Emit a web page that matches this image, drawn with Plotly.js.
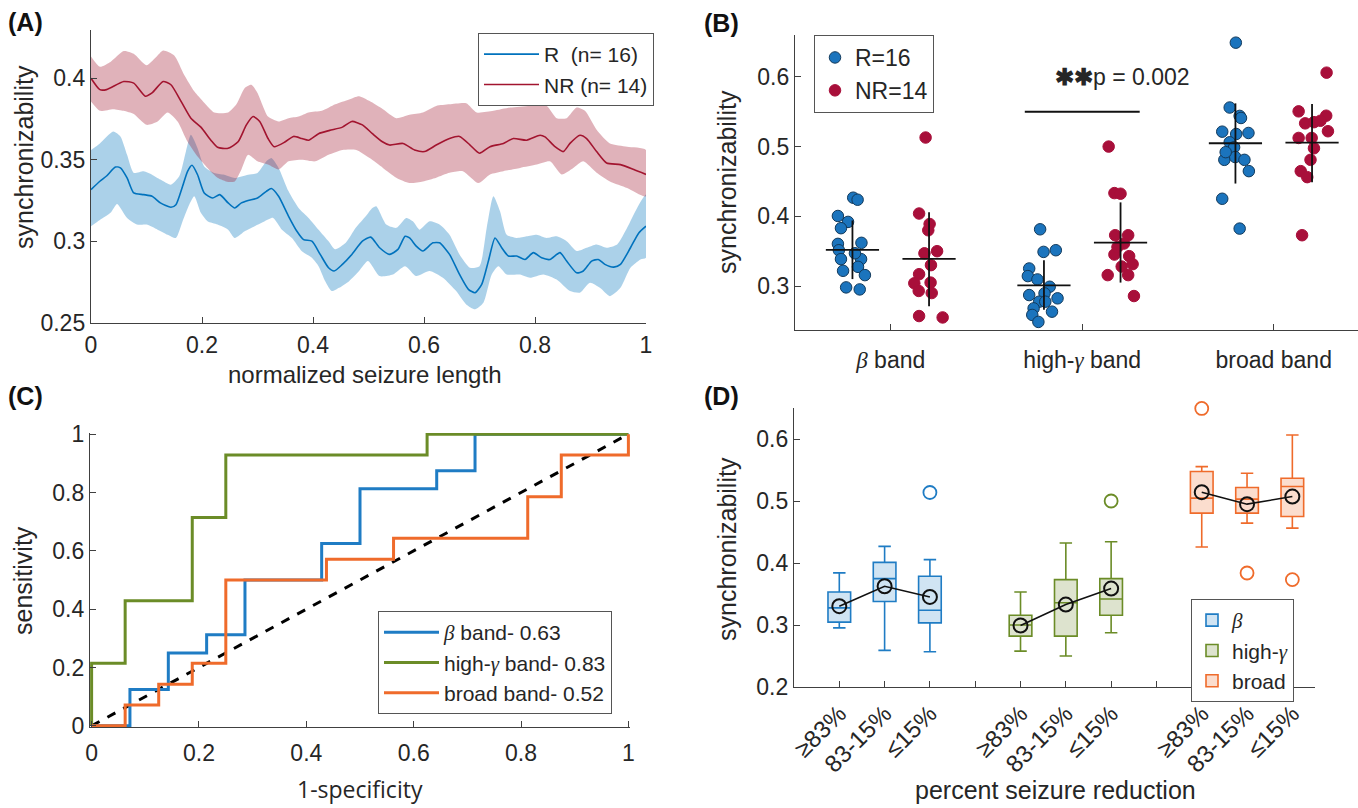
<!DOCTYPE html>
<html><head><meta charset="utf-8">
<script src="https://cdn.plot.ly/plotly-3.0.1.min.js"></script>
<style>html,body{margin:0;padding:0;background:#fff}#chart{width:1358px;height:808px}</style>
</head><body><div id="chart"></div>
<script>
// ---------- Panel A data: [normalized seizure length, synchronizability] ----------
const rMean = [[0,0.3317],[0.016,0.3368],[0.028,0.340],[0.044,0.3455],[0.053,0.345],[0.065,0.3388],[0.077,0.3296],[0.095,0.3286],[0.11,0.3276],[0.125,0.3235],[0.144,0.3208],[0.153,0.3224],[0.165,0.3337],[0.174,0.3429],[0.182,0.3466],[0.192,0.3408],[0.204,0.3296],[0.219,0.3265],[0.232,0.3286],[0.247,0.3235],[0.259,0.3204],[0.271,0.3235],[0.283,0.325],[0.30,0.3265],[0.316,0.3306],[0.325,0.3323],[0.338,0.3276],[0.356,0.3153],[0.371,0.3061],[0.383,0.301],[0.398,0.300],[0.413,0.2919],[0.428,0.2837],[0.438,0.2817],[0.453,0.2858],[0.47,0.2919],[0.489,0.300],[0.504,0.3025],[0.52,0.296],[0.538,0.2919],[0.553,0.295],[0.566,0.303],[0.574,0.302],[0.586,0.297],[0.598,0.294],[0.616,0.299],[0.628,0.299],[0.646,0.2919],[0.664,0.2796],[0.68,0.2705],[0.692,0.2684],[0.704,0.2735],[0.716,0.2878],[0.728,0.302],[0.74,0.296],[0.752,0.2909],[0.767,0.2909],[0.782,0.2888],[0.797,0.293],[0.812,0.2898],[0.827,0.2888],[0.845,0.293],[0.857,0.2878],[0.875,0.2806],[0.887,0.2817],[0.902,0.2878],[0.914,0.2888],[0.926,0.2858],[0.942,0.2841],[0.954,0.2858],[0.972,0.296],[0.987,0.3051],[1.0,0.3092]];
const rUpper = [[0,0.356],[0.016,0.360],[0.04,0.3673],[0.053,0.3643],[0.065,0.353],[0.077,0.3419],[0.095,0.3429],[0.11,0.3408],[0.125,0.3378],[0.144,0.3347],[0.159,0.3398],[0.171,0.3551],[0.18,0.3653],[0.192,0.3571],[0.204,0.3459],[0.222,0.3419],[0.24,0.3408],[0.259,0.3388],[0.283,0.3408],[0.30,0.3419],[0.316,0.349],[0.325,0.351],[0.338,0.345],[0.356,0.3306],[0.374,0.3204],[0.392,0.3143],[0.41,0.3071],[0.428,0.300],[0.44,0.295],[0.459,0.299],[0.477,0.3082],[0.495,0.3153],[0.507,0.3204],[0.514,0.3214],[0.532,0.3102],[0.55,0.3082],[0.568,0.3143],[0.58,0.3122],[0.592,0.3071],[0.61,0.3122],[0.628,0.3102],[0.646,0.304],[0.664,0.2919],[0.683,0.2837],[0.70,0.2847],[0.713,0.3082],[0.725,0.3276],[0.737,0.3184],[0.749,0.304],[0.767,0.302],[0.785,0.303],[0.803,0.304],[0.821,0.302],[0.839,0.303],[0.857,0.300],[0.875,0.294],[0.893,0.296],[0.911,0.298],[0.929,0.296],[0.948,0.298],[0.966,0.3082],[0.984,0.3204],[1.0,0.3286]];
const rLower = [[0,0.3092],[0.016,0.313],[0.035,0.3174],[0.047,0.3229],[0.065,0.3143],[0.083,0.3102],[0.10,0.3102],[0.12,0.3071],[0.138,0.304],[0.153,0.302],[0.165,0.3122],[0.177,0.3224],[0.186,0.3276],[0.198,0.3174],[0.21,0.3122],[0.228,0.3102],[0.247,0.3071],[0.259,0.302],[0.277,0.3061],[0.295,0.3092],[0.313,0.3122],[0.328,0.3143],[0.344,0.3071],[0.362,0.302],[0.38,0.2939],[0.398,0.2898],[0.41,0.2847],[0.422,0.2755],[0.434,0.2694],[0.447,0.2714],[0.465,0.2755],[0.483,0.2817],[0.499,0.2878],[0.52,0.2786],[0.544,0.2796],[0.566,0.2847],[0.586,0.2786],[0.61,0.2817],[0.634,0.2776],[0.658,0.2694],[0.676,0.2612],[0.692,0.2582],[0.707,0.2622],[0.722,0.2796],[0.734,0.2847],[0.749,0.2796],[0.773,0.2796],[0.791,0.2776],[0.815,0.2796],[0.839,0.2765],[0.863,0.2694],[0.881,0.2684],[0.899,0.2745],[0.917,0.2714],[0.935,0.2663],[0.954,0.2714],[0.972,0.2837],[0.99,0.2888],[1.0,0.2898]];
const nrMean = [[0,0.400],[0.016,0.393],[0.028,0.393],[0.059,0.398],[0.077,0.397],[0.098,0.389],[0.11,0.391],[0.13,0.398],[0.144,0.396],[0.162,0.386],[0.18,0.3755],[0.198,0.370],[0.216,0.362],[0.228,0.3576],[0.247,0.357],[0.265,0.361],[0.28,0.3714],[0.292,0.3765],[0.304,0.3735],[0.319,0.363],[0.33,0.358],[0.35,0.361],[0.365,0.3643],[0.38,0.363],[0.392,0.362],[0.41,0.366],[0.43,0.368],[0.453,0.370],[0.47,0.3735],[0.489,0.3714],[0.507,0.366],[0.525,0.361],[0.538,0.359],[0.562,0.360],[0.583,0.356],[0.601,0.355],[0.622,0.359],[0.646,0.363],[0.664,0.3643],[0.683,0.359],[0.70,0.354],[0.719,0.358],[0.743,0.360],[0.761,0.363],[0.785,0.362],[0.809,0.365],[0.818,0.364],[0.836,0.358],[0.851,0.355],[0.863,0.360],[0.881,0.365],[0.893,0.363],[0.911,0.355],[0.929,0.348],[0.954,0.347],[0.978,0.344],[1.0,0.341]];
const nrUpper = [[0,0.4133],[0.016,0.407],[0.035,0.410],[0.059,0.4167],[0.077,0.415],[0.10,0.408],[0.12,0.414],[0.13,0.417],[0.15,0.414],[0.168,0.402],[0.186,0.392],[0.204,0.385],[0.222,0.379],[0.247,0.379],[0.262,0.384],[0.277,0.394],[0.289,0.396],[0.30,0.391],[0.319,0.3765],[0.338,0.3735],[0.356,0.3755],[0.374,0.3765],[0.392,0.379],[0.416,0.380],[0.44,0.384],[0.465,0.387],[0.483,0.389],[0.502,0.386],[0.526,0.381],[0.55,0.3755],[0.574,0.3776],[0.598,0.379],[0.622,0.383],[0.646,0.384],[0.676,0.3847],[0.695,0.379],[0.725,0.380],[0.755,0.382],[0.791,0.383],[0.821,0.383],[0.839,0.3755],[0.857,0.3755],[0.875,0.382],[0.89,0.380],[0.911,0.3684],[0.935,0.360],[0.966,0.358],[1.0,0.356]];
const nrLower = [[0,0.3857],[0.016,0.380],[0.04,0.381],[0.059,0.380],[0.077,0.378],[0.10,0.3714],[0.12,0.3735],[0.138,0.379],[0.156,0.3735],[0.174,0.361],[0.192,0.352],[0.21,0.345],[0.228,0.339],[0.247,0.3364],[0.259,0.3367],[0.271,0.344],[0.283,0.353],[0.30,0.349],[0.319,0.347],[0.338,0.344],[0.356,0.349],[0.38,0.350],[0.404,0.349],[0.428,0.353],[0.453,0.356],[0.478,0.356],[0.502,0.351],[0.526,0.345],[0.55,0.339],[0.574,0.3357],[0.598,0.3367],[0.622,0.339],[0.646,0.342],[0.67,0.343],[0.698,0.3357],[0.719,0.341],[0.743,0.343],[0.773,0.345],[0.803,0.347],[0.827,0.349],[0.848,0.341],[0.869,0.345],[0.887,0.349],[0.911,0.342],[0.935,0.3367],[0.966,0.3327],[1.0,0.3276]];

// ---------- Panel B data ----------
const SERIF_B = '<span style="font-family:Liberation Serif,DejaVu Serif,serif"><i>β</i></span>';
const SERIF_G = '<span style="font-family:Liberation Serif,DejaVu Serif,serif"><i>γ</i></span>';
const bandLabels = [SERIF_B + ' band', 'high-' + SERIF_G + ' band', 'broad band'];
// [x position (category units), synchronizability]
const bR_beta  = [[0.804,0.4267],[0.827,0.4238],[0.724,0.4005],[0.777,0.392],[0.74,0.383],[0.724,0.3605],[0.847,0.362],[0.729,0.3514],[0.74,0.3386],[0.845,0.3386],[0.829,0.3276],[0.751,0.3219],[0.865,0.3157],[0.767,0.2981],[0.838,0.2952],[0.813,0.347]];
const bNR_beta = [[1.182,0.513],[1.148,0.404],[1.203,0.389],[1.196,0.38],[1.242,0.35],[1.176,0.347],[1.21,0.33],[1.148,0.317],[1.123,0.304],[1.208,0.305],[1.146,0.293],[1.214,0.29],[1.148,0.257],[1.271,0.255]];
const bR_hg    = [[1.78,0.3814],[1.798,0.349],[1.862,0.3514],[1.723,0.3252],[1.716,0.3143],[1.766,0.3095],[1.83,0.299],[1.723,0.2871],[1.803,0.2895],[1.871,0.2824],[1.775,0.2776],[1.746,0.268],[1.842,0.2633],[1.739,0.2586],[1.771,0.2486],[1.807,0.2776]];
const bNR_hg   = [[2.138,0.50],[2.168,0.4333],[2.2,0.4324],[2.172,0.3729],[2.24,0.3729],[2.218,0.361],[2.168,0.3452],[2.245,0.3429],[2.263,0.3314],[2.133,0.3157],[2.24,0.3157],[2.27,0.2857],[2.184,0.356],[2.206,0.328]];
const bR_broad = [[2.802,0.649],[2.77,0.556],[2.822,0.544],[2.829,0.541],[2.731,0.5214],[2.804,0.518],[2.868,0.5195],[2.77,0.5062],[2.793,0.499],[2.742,0.481],[2.799,0.485],[2.847,0.481],[2.87,0.4648],[2.731,0.4252],[2.822,0.3824],[2.749,0.492]];
const bNR_broad= [[3.276,0.606],[3.13,0.5505],[3.274,0.5443],[3.164,0.5333],[3.21,0.535],[3.283,0.522],[3.13,0.5124],[3.198,0.5124],[3.21,0.4976],[3.192,0.481],[3.141,0.4648],[3.175,0.4562],[3.148,0.3729],[3.244,0.537]];
// group mean with std bar (top / bottom), order: beta R, beta NR, hg R, hg NR, broad R, broad NR
const bGroupX   = [0.8, 1.2, 1.8, 2.2, 2.8, 3.2];
const bGroupMean= [0.352, 0.339, 0.301, 0.3624, 0.5048, 0.5057];
const bGroupTop = [0.394, 0.406, 0.337, 0.420, 0.562, 0.561];
const bGroupBot = [0.310, 0.271, 0.266, 0.305, 0.447, 0.449];

// ---------- Panel C data (ROC step corners) ----------
const rocBetaX = [0,0.0714,0.1429,0.2143,0.2857,0.4286,0.5,0.6429,0.7143,1];
const rocBetaY = [0,0.125,0.25,0.3125,0.5,0.625,0.8125,0.875,1,1];
const rocHgX   = [0,0,0.0625,0.1875,0.25,0.625,1];
const rocHgY   = [0,0.2143,0.4286,0.7143,0.9286,1,1];
const rocBrX   = [0,0.0625,0.125,0.1875,0.25,0.4375,0.5625,0.8125,0.875,1];
const rocBrY   = [0,0.0714,0.1429,0.2143,0.5,0.5714,0.6429,0.7857,0.9286,1];

// ---------- Panel D data (boxplots by seizure reduction) ----------
const dTickLabels = ['≥83%','83-15%','≤15%','','≥83%','83-15%','≤15%','','≥83%','83-15%','≤15%'];
const dPosBeta = [1,2,3], dPosHg = [5,6,7], dPosBr = [9,10,11];
const dBeta = {lo:[0.2954,0.259,0.2568], q1:[0.3046,0.3378,0.3035], med:[0.3276,0.3748,0.3239], q3:[0.3533,0.401,0.3786], hi:[0.384,0.4268,0.4054], mean:[0.3303,0.3625,0.3453]};
const dHg   = {lo:[0.2579,0.2499,0.2874], q1:[0.282,0.282,0.3158], med:[0.300,0.336,0.342], q3:[0.3158,0.3732,0.3748], hi:[0.3533,0.4322,0.4343], mean:[0.2992,0.333,0.3587]};
const dBr   = {lo:[0.4257,0.4643,0.4563], q1:[0.4804,0.4804,0.4751], med:[0.5046,0.503,0.5233], q3:[0.5475,0.5217,0.5367], hi:[0.5555,0.5448,0.6064], mean:[0.5142,0.4949,0.5072]};
const dOutBetaX = [3], dOutBetaY = [0.5137];
const dOutHgX = [7], dOutHgY = [0.50];
const dOutBrX = [9,10,11], dOutBrY = [0.6493,0.3839,0.3732];

// ---------- layout helpers ----------
const W = 1358, H = 808;
const fx = p => p / W, fy = p => 1 - p / H;
const FONT = '"Liberation Sans", Arial, sans-serif';
const TXT = '#262626', AX = '#404040';
const BLUE = '#0072BD', RED = '#A2142F';
const CB = '#1f7cc4', CG = '#6b8c27', CO = '#ef6b2b';
const xs = a => a.map(p => p[0]), ys = a => a.map(p => p[1]);

function bandPoly(up, lo, color) {
  return {x: xs(up).concat(xs(lo).reverse()), y: ys(up).concat(ys(lo).reverse()),
    type:'scatter', mode:'lines', fill:'toself', fillcolor: color,
    line:{width:0, shape:'spline', smoothing:0.6}, hoverinfo:'skip', showlegend:false, xaxis:'x', yaxis:'y'};
}

const traces = [];
// Panel A
traces.push(bandPoly(rUpper, rLower, 'rgba(0,114,189,0.33)'));
traces.push(bandPoly(nrUpper, nrLower, 'rgba(162,20,47,0.33)'));
traces.push({x: xs(rMean), y: ys(rMean), type:'scatter', mode:'lines', name:'R\u00a0 (n= 16)',
  line:{color:BLUE, width:1.6, shape:'spline', smoothing:0.6}, xaxis:'x', yaxis:'y', legend:'legend'});
traces.push({x: xs(nrMean), y: ys(nrMean), type:'scatter', mode:'lines', name:'NR (n= 14)',
  line:{color:RED, width:1.6, shape:'spline', smoothing:0.6}, xaxis:'x', yaxis:'y', legend:'legend'});

// Panel B
const allR = bR_beta.concat(bR_hg, bR_broad), allNR = bNR_beta.concat(bNR_hg, bNR_broad);
traces.push({x: xs(allR), y: ys(allR), type:'scatter', mode:'markers', name:'R=16', cliponaxis:false,
  marker:{color:'#1b74bd', size:11.5, line:{color:'#123a5c', width:1}}, xaxis:'x2', yaxis:'y2', legend:'legend2'});
traces.push({x: xs(allNR), y: ys(allNR), type:'scatter', mode:'markers', name:'NR=14', cliponaxis:false,
  marker:{color:'#a80f3a', size:11.5, line:{color:'#a80f3a', width:1}}, xaxis:'x2', yaxis:'y2', legend:'legend2'});
traces.push({x: bGroupX, y: bGroupMean, type:'scatter', mode:'markers', showlegend:false, hoverinfo:'skip',
  marker:{symbol:'line-ew-open', size:38, color:'#111', line:{color:'#111', width:1.8}},
  error_y:{type:'data', symmetric:false, array: bGroupTop.map((t,i)=>t-bGroupMean[i]),
    arrayminus: bGroupBot.map((b,i)=>bGroupMean[i]-b), width:0, thickness:1.8, color:'#111'},
  xaxis:'x2', yaxis:'y2'});

// Panel C
traces.push({x:[0,1], y:[0,1], type:'scatter', mode:'lines', showlegend:false,
  line:{color:'#000', width:3, dash:'dash'}, xaxis:'x3', yaxis:'y3'});
traces.push({x: rocBetaX, y: rocBetaY, type:'scatter', mode:'lines', name: SERIF_B + ' band- 0.63',
  line:{color:CB, width:3, shape:'hv'}, xaxis:'x3', yaxis:'y3', legend:'legend3'});
traces.push({x: rocHgX, y: rocHgY, type:'scatter', mode:'lines', name:'high-' + SERIF_G + ' band- 0.83',
  line:{color:CG, width:3, shape:'hv'}, xaxis:'x3', yaxis:'y3', legend:'legend3'});
traces.push({x: rocBrX, y: rocBrY, type:'scatter', mode:'lines', name:'broad band- 0.52',
  line:{color:CO, width:3, shape:'hv'}, xaxis:'x3', yaxis:'y3', legend:'legend3'});

// Panel D
function boxTrace(pos, d, color, fill, name) {
  return {type:'box', x: pos, q1:d.q1, median:d.med, q3:d.q3, lowerfence:d.lo, upperfence:d.hi,
    name:name, width:0.5, whiskerwidth:0.55, fillcolor:fill, line:{color:color, width:1.6},
    boxpoints:false, xaxis:'x4', yaxis:'y4', legend:'legend4', hoverinfo:'skip'};
}
traces.push(boxTrace(dPosBeta, dBeta, CB, 'rgba(40,130,200,0.22)', SERIF_B));
traces.push(boxTrace(dPosHg, dHg, CG, 'rgba(120,145,60,0.25)', 'high-' + SERIF_G));
traces.push(boxTrace(dPosBr, dBr, CO, 'rgba(240,120,60,0.25)', 'broad'));
[[dOutBetaX,dOutBetaY,CB],[dOutHgX,dOutHgY,CG],[dOutBrX,dOutBrY,CO]].forEach(o => traces.push({
  x:o[0], y:o[1], type:'scatter', mode:'markers', showlegend:false, hoverinfo:'skip', cliponaxis:false,
  marker:{symbol:'circle-open', size:13, color:o[2], line:{width:1.8, color:o[2]}}, xaxis:'x4', yaxis:'y4'}));
[[dPosBeta,dBeta],[dPosHg,dHg],[dPosBr,dBr]].forEach(g => traces.push({
  x:g[0], y:g[1].mean, type:'scatter', mode:'lines+markers', showlegend:false, hoverinfo:'skip',
  line:{color:'#111', width:1.6}, marker:{symbol:'circle-open', size:14, color:'#111', line:{width:2, color:'#111'}},
  xaxis:'x4', yaxis:'y4'}));

const tf = {family:FONT, size:23, color:TXT};
const base = {showline:true, linecolor:AX, linewidth:1.2, ticks:'inside', ticklen:6, tickcolor:AX, tickwidth:1,
  tickfont:tf, showgrid:false, zeroline:false, fixedrange:true, mirror:false};

const legBase = {bgcolor:'#fff', bordercolor:'#555', borderwidth:1, xanchor:'left', yanchor:'top',
  font:{family:FONT, size:21, color:TXT}, tracegroupgap:0};

function ann(text, x, y, opt) {
  return Object.assign({text:text, x:x, y:y, xref:'paper', yref:'paper', showarrow:false,
    xanchor:'center', yanchor:'middle', font:{family:FONT, size:25, color:TXT}}, opt || {});
}

const layout = {
  width:W, height:H, margin:{l:0, r:0, t:0, b:0}, paper_bgcolor:'#fff', plot_bgcolor:'rgba(0,0,0,0)',
  showlegend:true, font:{family:FONT, color:TXT},
  xaxis: Object.assign({}, base, {domain:[fx(91), fx(646)], range:[0,1], dtick:0.2, anchor:'y', ticklabelstandoff:1}),
  yaxis: Object.assign({}, base, {domain:[fy(322.7), fy(30)], range:[0.25,0.4296], dtick:0.05, anchor:'x'}),
  xaxis2: Object.assign({}, base, {domain:[fx(795), 1], range:[0.5,3.44], tickvals:[1,2,3], ticktext:bandLabels, anchor:'y2', ticklabelstandoff:9}),
  yaxis2: Object.assign({}, base, {domain:[fy(330), fy(35)], range:[0.237,0.66], tickvals:[0.3,0.4,0.5,0.6], anchor:'x2'}),
  xaxis3: Object.assign({}, base, {domain:[fx(90), fx(630)], range:[-0.003,1.003], dtick:0.2, anchor:'y3', ticklabelstandoff:5}),
  yaxis3: Object.assign({}, base, {domain:[fy(727), fy(433)], range:[-0.004,1.004], dtick:0.2, anchor:'x3'}),
  xaxis4: Object.assign({}, base, {domain:[fx(794), fx(1315)], range:[0,11.5], tickvals:[1,2,3,4,5,6,7,8,9,10,11],
    ticktext:dTickLabels, tickangle:-45, anchor:'y4', tickfont:{family:FONT, size:24, color:TXT}, ticklabelstandoff:2}),
  yaxis4: Object.assign({}, base, {domain:[fy(687), fy(408)], range:[0.2,0.65], dtick:0.1, anchor:'x4'}),
  legend:  Object.assign({}, legBase, {x:fx(478), y:fy(33), itemwidth:55}),
  legend2: Object.assign({}, legBase, {x:fx(814), y:fy(35), font:{family:FONT, size:23, color:TXT}, itemwidth:30}),
  legend3: Object.assign({}, legBase, {x:fx(378), y:fy(611), itemwidth:55}),
  legend4: Object.assign({}, legBase, {x:fx(1191), y:fy(599), itemwidth:30}),
  shapes: [{type:'line', xref:'x2', yref:'y2', x0:1.7, x1:2.3, y0:0.55, y1:0.55, line:{color:'#111', width:2}}],
  annotations: [
    ann('<b>(A)</b>', fx(6), fy(22), {xanchor:'left', font:{family:FONT, size:25, color:'#111'}}),
    ann('<b>(B)</b>', fx(702), fy(23), {xanchor:'left', font:{family:FONT, size:25, color:'#111'}}),
    ann('<b>(C)</b>', fx(6), fy(396), {xanchor:'left', font:{family:FONT, size:25, color:'#111'}}),
    ann('<b>(D)</b>', fx(702), fy(396), {xanchor:'left', font:{family:FONT, size:25, color:'#111'}}),
    ann('synchronizability', fx(24), fy(157), {textangle:-90}),
    ann('normalized seizure length', fx(364), fy(374), {font:{family:FONT, size:24, color:TXT}}),
    ann('synchronizability', fx(727), fy(182), {textangle:-90}),
    ann('sensitivity', fx(23), fy(581), {textangle:-90}),
    ann('1-specificity', fx(360), fy(789), {font:{family:'"Open Sans", "Noto Sans", sans-serif', size:23, color:TXT}}),
    ann('synchronizability', fx(727), fy(549), {textangle:-90}),
    ann('percent seizure reduction', fx(1055), fy(790)),
    {text:'<b>✱✱</b>p = 0.002', x:2.21, y:0.60, xref:'x2', yref:'y2', showarrow:false, xanchor:'center', yanchor:'middle',
      font:{family:FONT, size:23, color:TXT}}
  ]
};

Plotly.newPlot('chart', traces, layout, {staticPlot:true, displayModeBar:false});
</script></body></html>
